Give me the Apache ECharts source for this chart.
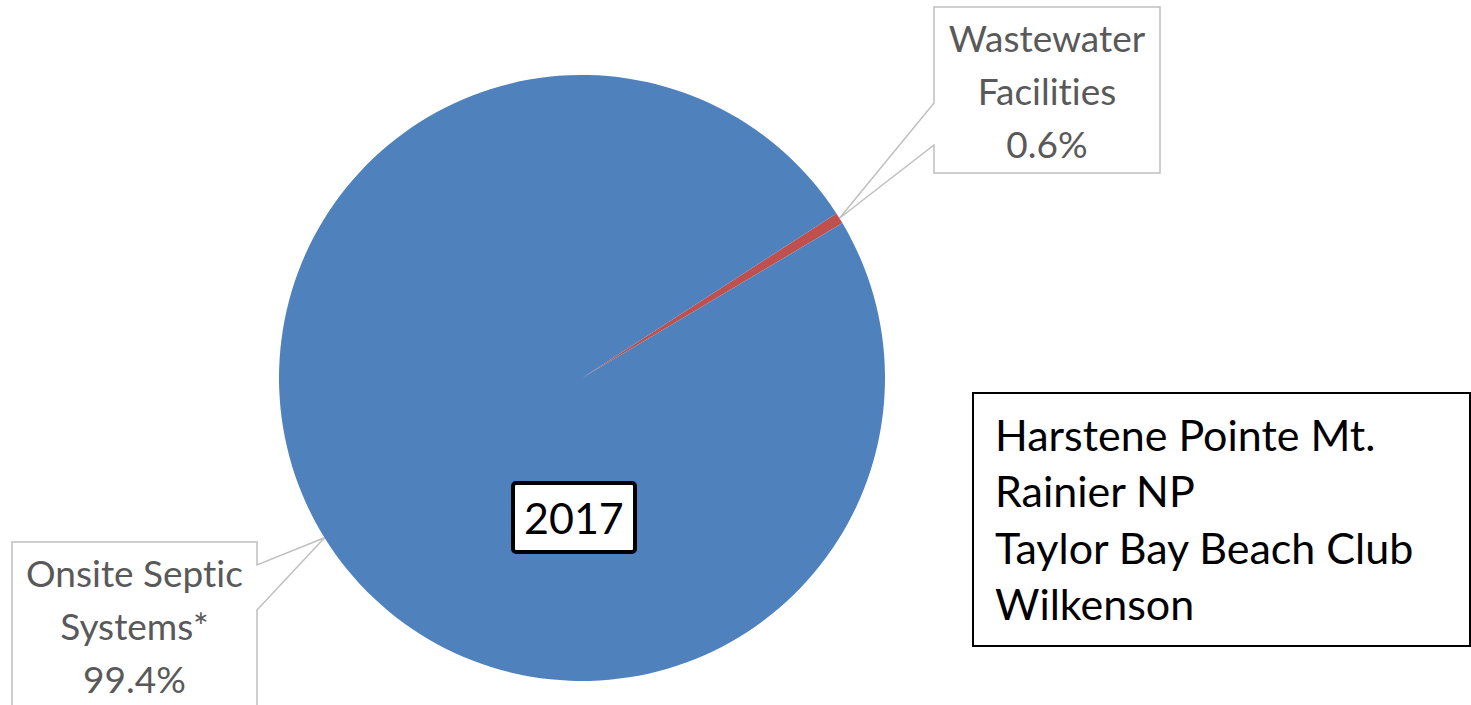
<!DOCTYPE html>
<html>
<head>
<meta charset="utf-8">
<script src="https://cdn.jsdelivr.net/npm/echarts@6/dist/echarts.min.js"></script>
<style>
html,body{margin:0;padding:0;background:#fff;}
#chart{width:1471px;height:705px;}
#chart text, #chart tspan{font-variant-ligatures:none;font-feature-settings:"liga" 0, "clig" 0;}
</style>
</head>
<body>
<div id="chart"></div>
<script>
// ---- data ----
var categories = ['Wastewater Facilities', 'Onsite Septic Systems*'];
var labelLines = [['Wastewater', 'Facilities'], ['Onsite Septic', 'Systems*']];
var values = [0.6, 99.4];
var colors = ['#C0504D', '#4F81BD'];
var yearLabel = '2017';
var facilityNames = ['Harstene Pointe Mt.', 'Rainier NP', 'Taylor Bay Beach Club', 'Wilkenson'];

// ---- layout ----
var FONT = 'Lato';
var cx = 582, cy = 378, R = 303, startAngle = 32.9;
// callout boxes
var boxes = [
  {x: 934, y: 7, w: 226, h: 166, side: 'left', wy1: 103, wy2: 145, ty: 90},
  {x: 12, y: 542, w: 245, h: 200, side: 'right', wy1: 565, wy2: 610, ty: 625}
];

var total = values.reduce(function (a, b) { return a + b; }, 0);
function tipPoint(i) {
  var cum = 0;
  for (var k = 0; k < i; k++) cum += values[k];
  var ang = (startAngle - (cum + values[i] / 2) / total * 360) * Math.PI / 180;
  return [cx + R * Math.cos(ang), cy - R * Math.sin(ang)];
}

var graphics = [];
boxes.forEach(function (b, i) {
  var t = tipPoint(i);
  var pts;
  if (b.side === 'left') {
    pts = [[b.x, b.y], [b.x + b.w, b.y], [b.x + b.w, b.y + b.h], [b.x, b.y + b.h],
           [b.x, b.wy2], t, [b.x, b.wy1]];
  } else {
    pts = [[b.x, b.y], [b.x + b.w, b.y], [b.x + b.w, b.wy1], t, [b.x + b.w, b.wy2],
           [b.x + b.w, b.y + b.h], [b.x, b.y + b.h]];
  }
  graphics.push({
    type: 'polygon', z: 0,
    shape: {points: pts},
    style: {fill: '#ffffff', stroke: '#BFBFBF', lineWidth: 1.5}
  });
});

// facility list box
graphics.push({
  type: 'rect', z: 5,
  shape: {x: 973, y: 393, width: 497, height: 253},
  style: {fill: '#ffffff', stroke: '#000000', lineWidth: 2}
});
graphics.push({
  type: 'text', z: 6,
  x: 995, y: 519,
  style: {
    text: facilityNames.join('\n'),
    fontFamily: FONT, fontSize: 43, lineHeight: 56.6,
    fill: '#000000', align: 'left', verticalAlign: 'middle'
  }
});

var chart = echarts.init(document.getElementById('chart'), null, {renderer: 'svg'});
chart.setOption({
  animation: false,
  backgroundColor: '#ffffff',
  title: {
    text: yearLabel,
    left: 513, top: 483,
    padding: [9, 11, 10, 11],
    backgroundColor: '#ffffff',
    borderColor: '#000000',
    borderWidth: 4,
    borderRadius: 3,
    textStyle: {fontFamily: FONT, fontSize: 43, fontWeight: 'normal', color: '#000000', lineHeight: 50},
    z: 10
  },
  graphic: graphics,
  series: [{
    type: 'pie',
    center: [cx, cy],
    radius: R,
    startAngle: startAngle,
    clockwise: true,
    percentPrecision: 1,
    z: 2,
    itemStyle: {borderWidth: 0},
    label: {
      show: true,
      fontFamily: FONT,
      fontSize: 37,
      lineHeight: 53,
      color: '#595959',
      align: 'center',
      formatter: function (p) {
        return labelLines[p.dataIndex].join('\n') + '\n' + p.percent.toFixed(1) + '%';
      }
    },
    labelLine: {show: false},
    labelLayout: function (p) {
      var b = boxes[p.dataIndex];
      return {x: b.x + b.w / 2, y: b.ty, align: 'center', verticalAlign: 'middle'};
    },
    emphasis: {disabled: true},
    data: categories.map(function (c, i) {
      return {name: c, value: values[i], itemStyle: {color: colors[i]}};
    })
  }]
});
</script>
</body>
</html>
